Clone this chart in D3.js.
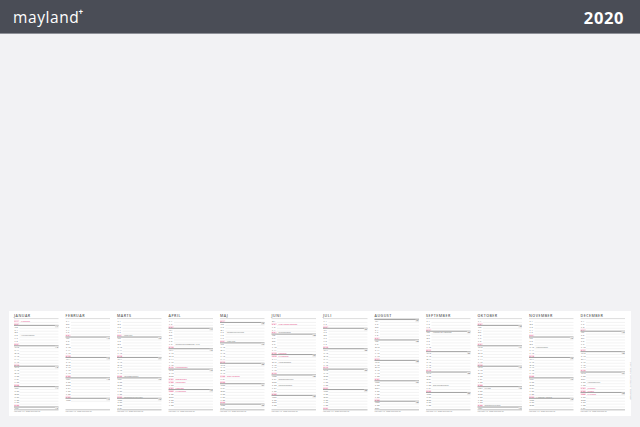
<!DOCTYPE html>
<html><head><meta charset="utf-8">
<script src="https://cdn.jsdelivr.net/npm/d3@7"></script>
<style>html,body{margin:0;padding:0;background:#f2f2f4;overflow:hidden}</style>
</head><body>
<script>
const title = "2020";
const brand = "mayland";
const months = ["JANUAR","FEBRUAR","MARTS","APRIL","MAJ","JUNI","JULI","AUGUST","SEPTEMBER","OKTOBER","NOVEMBER","DECEMBER"];
const daysInMonth = [31,28,31,30,31,30,31,31,30,31,30,31];
const firstWeekday = [5,1,1,4,6,2,4,0,3,5,1,3]; // 0 = mandag
const firstWeekNo = [1,6,10,14,18,23,27,31,36,40,45,49];
const weekdayLetters = ["M","T","O","T","F","L","S"];
// [month index, day, text, red day]
const events = [
  [0,1,"Nytårsdag",true],[0,6,"Helligtrekonger",false],
  [2,6,"Fastelavn",false],[2,20,"Forårsjævndøgn",false],[2,27,"Sommertid begynder",false],
  [3,9,"Danmarks besættelse 1940",false],[3,17,"Palmesøndag",true],[3,21,"Skærtorsdag",true],
  [3,22,"Langfredag",true],[3,24,"Påskedag",true],[3,25,"2. påskedag",true],
  [4,5,"Danmarks befrielse",false],[4,8,"Mors dag",false],[4,20,"Store bededag",true],
  [5,2,"Kristi himmelfartsdag",true],[5,5,"Grundlovsdag",false],[5,12,"Pinsedag",true],
  [5,13,"2. pinsedag",true],[5,15,"Valdemarsdag",false],[5,21,"Sommersolhverv",false],[5,23,"Sankthansaften",false],
  [8,5,"Flagdag for udsendte",false],[8,23,"Efterårsjævndøgn",false],
  [9,24,"FN-dag",false],[9,30,"Sommertid slutter",false],
  [10,10,"Mortensaften",false],[10,27,"1. søndag i advent",false],
  [11,22,"Vintersolhverv",false],[11,24,"Juleaften",true],[11,25,"Juledag",true],[11,26,"2. juledag",true]
];
const footerText = "Mayland A/S · www.mayland.dk";
const sideText = "Mayland A/S · DK-7100 Vejle · Planner 2020";

const W = 640, H = 427;
const pink = "#e5467f";
const svg = d3.select("body").append("svg").attr("width", W).attr("height", H)
  .style("font-family", "'Open Sans', 'DejaVu Sans', sans-serif");

svg.append("rect").attr("width", W).attr("height", H).attr("fill", "#f2f2f4");
svg.append("rect").attr("width", W).attr("height", 33).attr("fill", "#4a4d56");
svg.append("rect").attr("y", 33).attr("width", W).attr("height", 1).attr("fill", "#8e9097");
svg.append("text").attr("x", 13).attr("y", 23).attr("fill", "#fff").attr("font-size", 15.5)
  .attr("letter-spacing", 0.6).text(brand);
svg.append("text").attr("x", 78.5).attr("y", 15).attr("fill", "#fff").attr("font-size", 8).attr("font-weight", 700).text("+");
svg.append("text").attr("x", 624).attr("y", 23.5).attr("fill", "#fff").attr("font-size", 16.5)
  .attr("font-weight", 700).attr("text-anchor", "end").attr("letter-spacing", 0.6).text(title);

// white panel
svg.append("rect").attr("x", 9).attr("y", 311).attr("width", 622).attr("height", 105).attr("fill", "#ffffff");

const x = d3.scaleBand().domain(months).range([14, 625]).paddingInner(0.136).paddingOuter(0);
const y = d3.scaleLinear().domain([1, 31]).range([321, 408.5]);
const pitch = y(2) - y(1);
const bw = x.bandwidth();

const evMap = new Map(events.map(e => [e[0] + "-" + e[1], e]));

months.forEach((m, mi) => {
  const g = svg.append("g").attr("transform", `translate(${x(m)},0)`);
  g.append("text").attr("x", 0).attr("y", 317.2).attr("font-size", 3.6).attr("font-weight", 600)
    .attr("letter-spacing", 0.5).attr("fill", "#5a5a5a").text(m);
  g.append("line").attr("x1", 0).attr("x2", bw).attr("y1", 318.6).attr("y2", 318.6)
    .attr("stroke", "#9a9a9a").attr("stroke-width", 0.35);
  const days = d3.range(1, daysInMonth[mi] + 1);
  let week = firstWeekNo[mi];
  days.forEach(d => {
    const wd = (firstWeekday[mi] + d - 1) % 7;
    const ev = evMap.get(mi + "-" + d);
    const red = wd === 6 || (ev && ev[3]);
    const cy = y(d);
    g.append("line").attr("x1", 5.5).attr("x2", bw).attr("y1", cy + pitch / 2).attr("y2", cy + pitch / 2)
      .attr("stroke", "#d6d6d6").attr("stroke-width", 0.3);
    if (red) {
      g.append("rect").attr("x", 0).attr("y", cy - pitch / 2 + 0.3).attr("width", 5.2).attr("height", pitch - 0.6)
        .attr("fill", "#fbe1ea");
    }
    g.append("text").attr("x", 0.4).attr("y", cy + 0.8).attr("font-size", 2.2)
      .attr("fill", red ? pink : "#666").text(weekdayLetters[wd]);
    g.append("text").attr("x", 2.6).attr("y", cy + 0.8).attr("font-size", 2.2)
      .attr("fill", red ? pink : "#666").text(d);
    if (ev) {
      g.append("text").attr("x", 7).attr("y", cy + 0.7).attr("font-size", 1.9)
        .attr("fill", ev[3] ? pink : "#777").text(ev[2]);
    }
    if (wd === 0) {
      const ly = cy - pitch / 2;
      g.append("line").attr("x1", 0).attr("x2", bw).attr("y1", ly).attr("y2", ly)
        .attr("stroke", "#8a8a8a").attr("stroke-width", 0.8);
      g.append("rect").attr("x", bw - 3.6).attr("y", ly).attr("width", 3.6).attr("height", 2.2).attr("fill", "#e6e6e6");
      g.append("text").attr("x", bw - 0.4).attr("y", ly + 1.9).attr("font-size", 1.9).attr("text-anchor", "end")
        .attr("fill", "#555").text(week);
      week++;
    }
  });
  g.append("line").attr("x1", 0).attr("x2", bw).attr("y1", 409.8).attr("y2", 409.8)
    .attr("stroke", "#8a8a8a").attr("stroke-width", 0.5);
  g.append("text").attr("x", 0).attr("y", 412.3).attr("font-size", 1.8).attr("fill", "#888").text(footerText);
});

svg.append("text").attr("transform", "translate(630.5,400) rotate(-90)").attr("font-size", 1.9)
  .attr("fill", "#999").text(sideText);
</script>
</body></html>
